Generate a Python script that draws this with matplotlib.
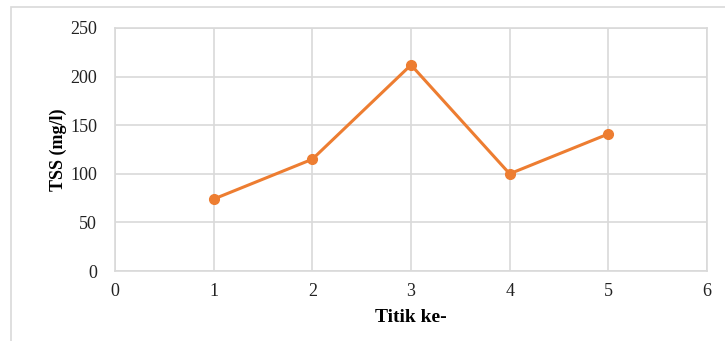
import matplotlib
matplotlib.use("Agg")
import matplotlib.pyplot as plt
from matplotlib.patches import Rectangle

titik = [1, 2, 3, 4, 5]
tss = [74, 115, 212, 100, 141]
xticks = [0, 1, 2, 3, 4, 5, 6]
yticks = [0, 50, 100, 150, 200, 250]

plt.rcParams['font.family'] = ['Liberation Serif', 'DejaVu Serif']

fig = plt.figure(figsize=(7.25, 3.41), dpi=100)
fig.patches.append(Rectangle((11/725, -0.1), 1.0, 1 - 7/341 + 0.1, transform=fig.transFigure,
                             fill=False, edgecolor='#d9d9d9', linewidth=1.2))
ax = fig.add_axes([115/725, 1 - 271/341, (707 - 115)/725, (271 - 28)/341])

ax.plot(titik, tss, color='#ED7D31', linewidth=2.2, marker='o', markersize=7, zorder=3)

ax.set_xlim(0, 6)
ax.set_ylim(0, 250)
ax.set_xticks(xticks)
ax.set_yticks(yticks)
ax.grid(True, color='#d9d9d9', linewidth=1.2)
ax.set_axisbelow(True)
for s in ax.spines.values():
    s.set_color('#d9d9d9')
    s.set_linewidth(1.2)
ax.tick_params(length=0, labelsize=13, pad=9, colors='#222222')
ax.tick_params(axis='y', pad=13)
ax.set_xlabel('Titik ke-', fontsize=14, fontweight='bold', labelpad=6)
ax.set_ylabel('TSS (mg/l)', fontsize=13, fontweight='bold', labelpad=2)

fig.savefig('out.png', dpi=100)
